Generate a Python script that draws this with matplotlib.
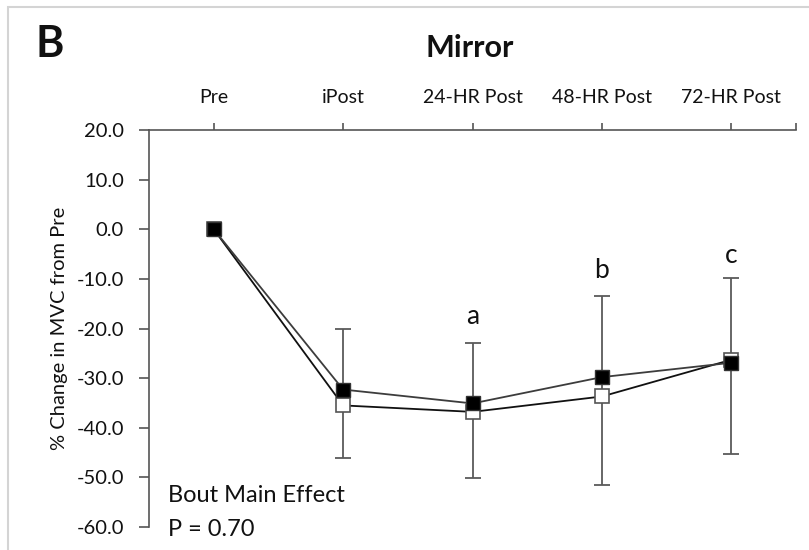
import matplotlib
matplotlib.use("Agg")
import matplotlib.pyplot as plt
from matplotlib.patches import Rectangle
import numpy as np

plt.rcParams['font.family'] = ['Lato', 'DejaVu Sans']

# Time points and % change in MVC from Pre
timepoints = ["Pre", "iPost", "24-HR Post", "48-HR Post", "72-HR Post"]
bout_filled = [0.0, -32.3, -35.1, -29.8, -26.9]
bout_open = [0.0, -35.5, -36.8, -33.7, -26.3]

# Error bar ends (upper / lower) at each time point
err_upper = [0.0, -20.2, -23.0, -13.4, -9.9]
err_lower = [0.0, -46.0, -50.1, -51.5, -45.2]

# Significance letters placed above the error bars
sig_letters = ["", "", "a", "b", "c"]
sig_y = [None, None, -17.5, -8.4, -5.2]

yticks = [20, 10, 0, -10, -20, -30, -40, -50, -60]

fig = plt.figure(figsize=(8.09, 5.50), dpi=100)
ax = fig.add_axes([149 / 809, 1 - 527 / 550, (796 - 149) / 809, (527 - 130) / 550])

x = np.arange(len(timepoints))

# Error bars (drawn only where a spread exists)
up = np.array(err_upper)
lo = np.array(err_lower)
mask = (up - lo) > 0
mid = (up + lo) / 2
half = (up - lo) / 2
ax.errorbar(x[mask], mid[mask], yerr=half[mask], fmt='none', ecolor='#5a5a5a',
            elinewidth=1.3, capsize=5.5, capthick=1.3, zorder=1)

ax.plot(x, bout_open, color='#111111', lw=1.3, marker='s', markersize=9.5,
        markerfacecolor='white', markeredgecolor='#555555', markeredgewidth=1.2, zorder=2)
ax.plot(x, bout_filled, color='#3c3c3c', lw=1.3, marker='s', markersize=9.5,
        markerfacecolor='black', markeredgecolor='#333333', markeredgewidth=1.0, zorder=3)

for xi, s, yv in zip(x, sig_letters, sig_y):
    if s:
        ax.text(xi, yv, s, ha='center', va='center', fontsize=19, color='#111111')

ax.set_xlim(-0.5, 4.5)
ax.set_ylim(-60, 20)
ax.set_yticks(yticks)
ax.set_yticklabels([f"{v:.1f}".replace("\u2212", "-") for v in yticks])
ax.set_xticks(list(x) + [4.5])
ax.set_xticklabels(timepoints + [""])
ax.xaxis.tick_top()

for side in ['right', 'bottom']:
    ax.spines[side].set_visible(False)
for side in ['left', 'top']:
    ax.spines[side].set_color('#555555')
    ax.spines[side].set_linewidth(1.2)

ax.tick_params(axis='y', direction='out', length=7, width=1.2, color='#555555',
               labelsize=14.5, pad=11, labelcolor='#111111')
ax.tick_params(axis='x', direction='out', length=5, width=1.2, color='#555555',
               labelsize=14, pad=12, labelcolor='#111111')

ax.set_ylabel("% Change in MVC from Pre", fontsize=14.5, color='#111111', labelpad=6)

ax.text(-0.35, -53.6, "Bout Main Effect", ha='left', va='center', fontsize=17,
        color='#111111', clip_on=False)
ax.text(-0.35, -60.6, "P = 0.70", ha='left', va='center', fontsize=17,
        color='#111111', clip_on=False)

fig.text(470 / 809, 1 - 48 / 550, "Mirror", ha='center', va='center',
         fontsize=22, fontweight='bold', color='#111111')
fig.text(50 / 809, 1 - 44 / 550, "B", ha='center', va='center',
         fontsize=31, fontweight='bold', color='#111111')

# light frame around the panel
fig.patches.append(Rectangle((8 / 809, -0.1), 1.2, (1 - 7 / 550) + 0.1,
                             transform=fig.transFigure, fill=False,
                             edgecolor='#d4d4d4', linewidth=1.5))

fig.savefig("out.png", dpi=100)
